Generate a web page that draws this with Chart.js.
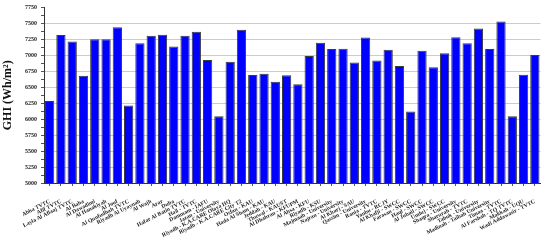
<!DOCTYPE html>
<html>
<head>
<meta charset="utf-8">
<script src="https://cdn.jsdelivr.net/npm/chart.js@4.4.0/dist/chart.umd.min.js"></script>
<style>
  html, body { margin: 0; padding: 0; background: #fff; }
  #wrap { width: 550px; height: 245px; position: relative; }
</style>
</head>
<body>
<div id="wrap"><canvas id="ghi"></canvas></div>
<script>
// station names, left to right
const stations = [
  "Abha TVTC", "Afif TVTC", "Layla Al Aflaaj TVTC", "Al Baha", "Al Dawadimi",
  "Al Hanakiyah", "Al Jouf", "Al Qunfudhah TVTC", "Riyadh Al Uyaynah", "Al Wajh",
  "Arar", "Duba", "Hafar Al Batin TVTC", "Hail - TVTC", "Dammam - IAFU",
  "Jazan - University", "Riyadh - K.A.CARE Olaya HQ", "Riyadh - K.A.CARE City T2",
  "Osfan - KAU", "Hada Al Sham - KAU", "Jeddah - KAU", "Thuwal - KAUST",
  "Al Dhahran - KFUPM", "Al Ahsa - KFU", "Riyadh - KSU", "Majmaah - University",
  "Najran - University", "Al Kharj - SAU", "Qassim - University", "Rania - TVTC",
  "Yanbu - RCJY", "Al Khafji - SWCC", "Farasan - SWCC", "Haql - SWCC",
  "Al Jubail - SWCC", "Umluj - SWCC", "Shaqra - University", "Sharurah - TVTC",
  "Tabuk - University", "Madinah - Taibah University", "Timaa - TVTC",
  "Al Farshah - TQ TVTC", "Makkah - UQU", "Wadi Addawasir - TVTC"
];

// GHI in Wh/m2 per station
const ghi = [
  6285, 7320, 7220, 6680, 7255,
  7255, 7443, 6214, 7193, 7307,
  7325, 7141, 7307, 7370, 6927,
  6047, 6901, 7401,
  6693, 6714, 6589, 6688,
  6547, 6990, 7198, 7099,
  7104, 6891, 7281, 6922,
  7089, 6833, 6120, 7073,
  6813, 7036, 7286, 7193,
  7422, 7099, 7531,
  6047, 6698, 7005
];

const yMin = 5000;
const yMax = 7750;

const serif = "'Liberation Serif', 'Times New Roman', serif";

new Chart(document.getElementById("ghi"), {
  type: "bar",
  data: {
    labels: stations,
    datasets: [{
      data: ghi,
      backgroundColor: "#0000ff",
      borderColor: "#3a3a3a",
      borderWidth: 1,
      barPercentage: 0.82,
      categoryPercentage: 1
    }]
  },
  options: {
    responsive: true,
    maintainAspectRatio: false,
    animation: false,
    layout: { padding: { top: 4, right: 3, left: 1, bottom: 0 } },
    plugins: {
      legend: { display: false },
      tooltip: { enabled: false }
    },
    scales: {
      x: {
        border: { color: "#333", width: 1 },
        grid: {
          offset: false,
          drawOnChartArea: false,
          drawTicks: true,
          tickLength: 3,
          tickColor: "#555"
        },
        ticks: {
          autoSkip: false,
          minRotation: 27,
          maxRotation: 27,
          padding: 12,
          color: "#222",
          font: { family: serif, size: 5.7, weight: "bold" }
        },
        afterFit: (scale) => { scale.height = 62; }
      },
      y: {
        min: yMin,
        max: yMax,
        border: { color: "#333", width: 1 },
        grid: {
          color: (ctx) => (ctx.tick && ctx.tick.value % 250 === 0 && ctx.tick.value !== yMax && ctx.tick.value !== yMin) ? "#c4c4ff" : "rgba(0,0,0,0)",
          tickColor: "#555",
          tickLength: 3,
          lineWidth: 1
        },
        ticks: {
          stepSize: 125,
          autoSkip: false,
          padding: 4,
          color: "#222",
          font: { family: serif, size: 6, weight: "bold" },
          callback: (v) => (v % 250 === 0 ? v : "")
        },
        title: {
          display: true,
          text: "GHI (Wh/m²)",
          color: "#111",
          padding: { top: 0, bottom: 2 },
          font: { family: serif, size: 12, weight: "bold" }
        },
        afterFit: (scale) => { scale.width = 43; }
      }
    }
  }
});
</script>
</body>
</html>
